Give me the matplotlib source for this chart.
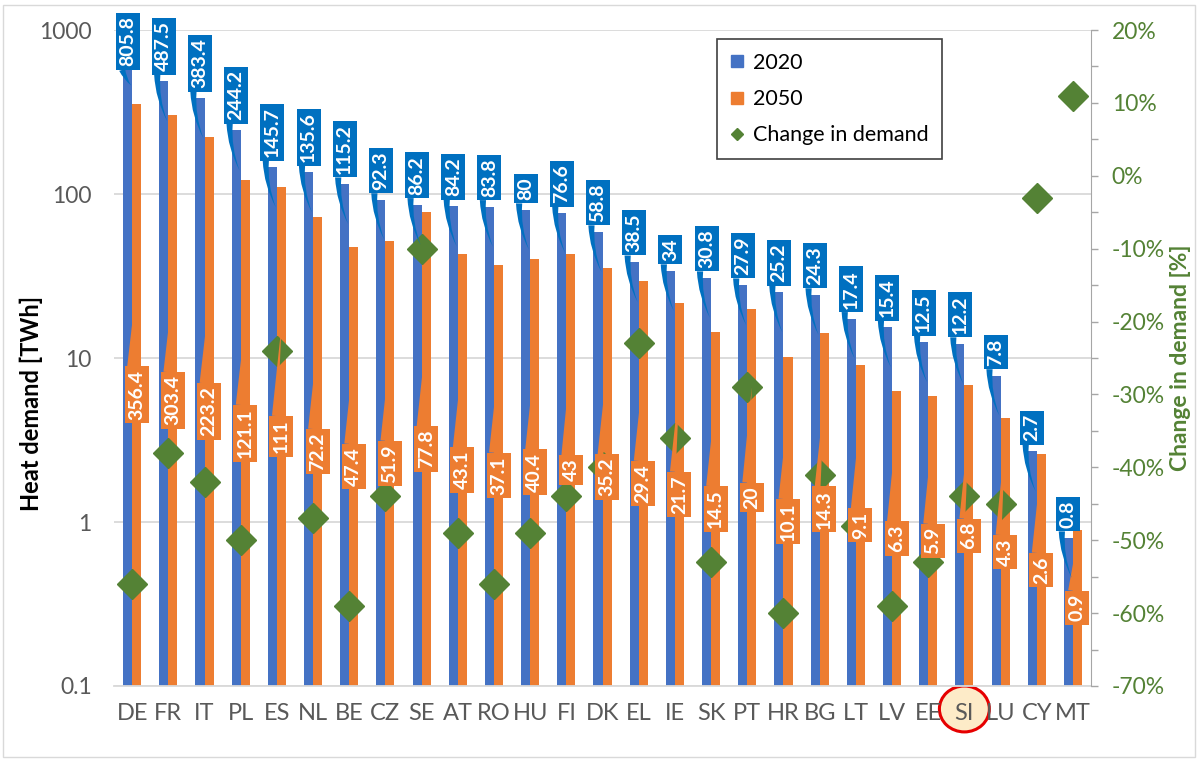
import numpy as np
import matplotlib
matplotlib.use("Agg")
import matplotlib.pyplot as plt
import matplotlib.transforms as mtransforms
from matplotlib.lines import Line2D
from matplotlib.patches import Ellipse, Rectangle
from matplotlib.ticker import FixedLocator, MultipleLocator, PercentFormatter

plt.rcParams["font.family"] = ["Lato", "DejaVu Sans"]
plt.rcParams["axes.unicode_minus"] = False

# heat demand per country [TWh] and relative change 2020 -> 2050 [%]
countries = ["DE", "FR", "IT", "PL", "ES", "NL", "BE", "CZ", "SE", "AT", "RO", "HU", "FI",
             "DK", "EL", "IE", "SK", "PT", "HR", "BG", "LT", "LV", "EE", "SI", "LU", "CY", "MT"]
demand_2020 = [805.8, 487.5, 383.4, 244.2, 145.7, 135.6, 115.2, 92.3, 86.2, 84.2, 83.8, 80, 76.6,
               58.8, 38.5, 34, 30.8, 27.9, 25.2, 24.3, 17.4, 15.4, 12.5, 12.2, 7.8, 2.7, 0.8]
demand_2050 = [356.4, 303.4, 223.2, 121.1, 111, 72.2, 47.4, 51.9, 77.8, 43.1, 37.1, 40.4, 43,
               35.2, 29.4, 21.7, 14.5, 20, 10.1, 14.3, 9.1, 6.3, 5.9, 6.8, 4.3, 2.6, 0.9]
change_pct = [-56, -38, -42, -50, -24, -47, -59, -44, -10, -49, -56, -49, -44,
              -40, -23, -36, -53, -29, -60, -41, -48, -59, -53, -44, -45, -3, 11]
ytick_vals = [0.1, 1, 10, 100, 1000]
ytick_labels = ["0.1", "1", "10", "100", "1000"]
highlight = "SI"

BLUE = "#4472C4"
ORANGE = "#ED7D31"
LBLUE = "#0070C0"
GREEN = "#548235"
GREY = "#595959"

fig = plt.figure(figsize=(11.98, 7.64), dpi=100)
ax = fig.add_axes([0.0952, 0.1021, 0.8155, 0.8586])
ax2 = ax.twinx()

x = np.arange(len(countries))
w = 0.25
ax.bar(x - w / 2, demand_2020, w, color=BLUE, zorder=2)
ax.bar(x + w / 2, demand_2050, w, color=ORANGE, zorder=2)
ax.set_yscale("log")
ax.set_ylim(0.1, 1000)
ax.set_xlim(-0.5, len(countries) - 0.5)
ax.yaxis.set_major_locator(FixedLocator(ytick_vals))
ax.yaxis.set_minor_locator(plt.NullLocator())
ax.set_yticklabels(ytick_labels)
ax.set_xticks(x)
ax.set_xticklabels(countries)
ax.grid(axis="y", color="#D9D9D9", lw=1.3)
ax.set_axisbelow(True)
for s in ["left", "top", "right"]:
    ax.spines[s].set_visible(False)
ax.spines["bottom"].set_color("#D9D9D9")
ax.spines["bottom"].set_linewidth(1.3)
ax.tick_params(axis="x", length=0, pad=12, labelsize=17, labelcolor=GREY)
ax.tick_params(axis="y", length=0, pad=16, labelsize=16.5, labelcolor=GREY)
ax.set_ylabel("Heat demand [TWh]", fontsize=17, fontweight="bold", color="black")
ax.yaxis.set_label_coords(-0.073, 0.43)

# change in demand on the secondary axis
ax2.plot(x, change_pct, ls="none", marker="D", ms=15, color=GREEN, zorder=3)
ax2.set_ylim(-70, 20)
ax2.yaxis.set_major_locator(MultipleLocator(10))
ax2.yaxis.set_minor_locator(MultipleLocator(5))
ax2.yaxis.set_major_formatter(PercentFormatter(decimals=0))
ax2.tick_params(axis="y", which="both", direction="out", length=5, width=1,
                color="#A6A6A6", labelsize=16.5, labelcolor=GREEN, pad=10)
for s in ["left", "top", "bottom"]:
    ax2.spines[s].set_visible(False)
ax2.spines["right"].set_color("#A6A6A6")
ax2.set_ylabel("Change in demand [%]", fontsize=16.5, fontweight="bold", color=GREEN)
ax2.yaxis.set_label_coords(1.081, 0.5)

# data callouts (drawn on ax2 so they sit above the diamonds)
H = fig.get_figheight() * fig.dpi
ppd = ax.get_position().height * H / 4.0  # pixels per decade
blue_anns = []
for i, v in enumerate(demand_2020):
    a = ax2.annotate(f"{v:g}", xy=(x[i] - 0.03, v * 10 ** (-40 / ppd)), xycoords=ax.transData,
                     xytext=(x[i] - w / 2, v * 10 ** (10 / ppd)), textcoords=ax.transData,
                     rotation=90, ha="center", va="bottom", color="white",
                     fontsize=14, fontweight="bold", zorder=6, annotation_clip=False,
                     bbox=dict(boxstyle="square,pad=0.18", fc=LBLUE, ec="none"),
                     arrowprops=dict(arrowstyle="wedge,tail_width=0.32", fc=LBLUE, ec="none",
                                     relpos=(0.12, 0.0), shrinkA=0, shrinkB=0,
                                     connectionstyle="arc3,rad=0.12"))
    blue_anns.append((a, v))

for i, v in enumerate(demand_2050):
    mid = np.sqrt(0.1 * v)
    tip = min(mid * 10 ** (110 / ppd), v * 10 ** (-10 / ppd))
    ax2.annotate(f"{v:g}", xy=(x[i] + w / 2, tip), xycoords=ax.transData,
                 xytext=(x[i] + w / 2, mid), textcoords=ax.transData,
                 rotation=90, ha="center", va="center", color="white",
                 fontsize=14, fontweight="bold", zorder=5, annotation_clip=False,
                 bbox=dict(boxstyle="square,pad=0.18", fc=ORANGE, ec="none"),
                 arrowprops=dict(arrowstyle="wedge,tail_width=0.3", fc=ORANGE, ec="none",
                                 relpos=(0.1, 1.0), shrinkA=0, shrinkB=0,
                                 connectionstyle="arc3,rad=0"))

# legend
handles = [Line2D([], [], ls="none", marker="s", ms=8.5, color=BLUE),
           Line2D([], [], ls="none", marker="s", ms=8.5, color=ORANGE),
           Line2D([], [], ls="none", marker="D", ms=6.5, color=GREEN)]
leg = ax2.legend(handles, ["2020", "2050", "Change in demand"], loc="upper left",
                 bbox_to_anchor=(0.6172, 0.9863), borderaxespad=0, fontsize=15.5,
                 frameon=True, fancybox=False, framealpha=1, edgecolor="#404040",
                 handlelength=0.6, handletextpad=0.4, labelspacing=0.75, borderpad=0.65)
leg.get_frame().set_linewidth(1.2)
leg.set_zorder(10)

# highlight circle behind one country label
trans = mtransforms.blended_transform_factory(ax.transData, ax.transAxes)
hi = countries.index(highlight)
ax.add_patch(Ellipse((x[hi], -0.035), 1.38, 0.07, transform=trans, clip_on=False,
                     fc="#FDEBC8", ec="#E60000", lw=2.2, zorder=0.2))

# keep the topmost callouts inside the figure
fig.canvas.draw()
r = fig.canvas.get_renderer()
for a, v in blue_anns:
    ext = a.get_bbox_patch().get_window_extent(r)
    if ext.y1 > H - 13:
        d = ext.y1 - (H - 13)
        xt, yt = a.xyann
        a.xyann = (xt, yt * 10 ** (-d / ppd))

fig.add_artist(Rectangle((0.0025, 0.009), 0.995, 0.984, transform=fig.transFigure,
                         fill=False, ec="#D9D9D9", lw=1))

fig.savefig("out.png", dpi=100)
